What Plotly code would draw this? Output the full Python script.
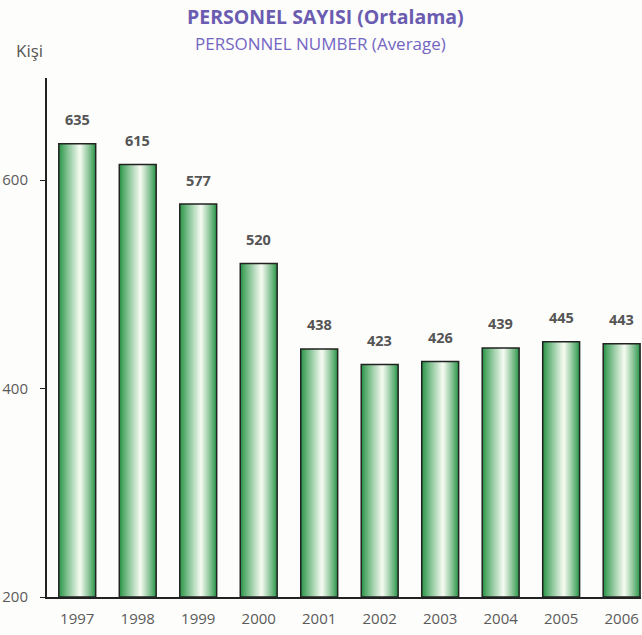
import plotly.graph_objects as go

years = ["1997", "1998", "1999", "2000", "2001", "2002", "2003", "2004", "2005", "2006"]
staff = [635, 615, 577, 520, 438, 423, 426, 439, 445, 443]
y_ticks = [200, 400, 600]

BAR_W = 0.61
FONT = "Open Sans"
fig = go.Figure()

# gradient layers (edge green -> light center, highlight slightly right of centre)
edge = (44, 150, 74)
center = (242, 249, 238)
n = 16
for i in range(n):
    t = i / (n - 1)
    tt = t ** 0.9
    c = tuple(int(edge[k] + (center[k] - edge[k]) * tt) for k in range(3))
    w = BAR_W * (1 - 0.94 * t)
    fig.add_trace(go.Bar(
        x=years, y=[v - 200 for v in staff], base=200, width=w,
        offset=-w / 2 + 0.07 * BAR_W * t,
        marker=dict(color="rgb(%d,%d,%d)" % c, line=dict(width=0)),
        hoverinfo="skip", showlegend=False))

# outline
fig.add_trace(go.Bar(
    x=years, y=[v - 200 for v in staff], base=200, width=BAR_W, offset=-BAR_W / 2,
    marker=dict(color="rgba(0,0,0,0)", line=dict(color="#222222", width=1.5)),
    hoverinfo="skip", showlegend=False))

for i, v in enumerate(staff):
    fig.add_annotation(x=i, y=v, text="<b>%d</b>" % v, showarrow=False,
                       yanchor="middle", yshift=24,
                       font=dict(family=FONT, size=14.5, color="#555555"))

fig.add_annotation(xref="paper", yref="paper", x=0, y=1, xshift=278, yshift=62,
                   xanchor="center", yanchor="middle",
                   text="<b>PERSONEL SAYISI (Ortalama)</b>", showarrow=False,
                   font=dict(family=FONT, size=19.5, color="#6a5cb0"))
fig.add_annotation(xref="paper", yref="paper", x=0, y=1, xshift=273, yshift=35,
                   xanchor="center", yanchor="middle",
                   text="PERSONNEL NUMBER (Average)", showarrow=False,
                   font=dict(family=FONT, size=17, color="#7466c4"))
fig.add_annotation(xref="paper", yref="paper", x=0, y=1, xshift=-33, yshift=28,
                   xanchor="left", yanchor="middle", text="Kişi", showarrow=False,
                   font=dict(family=FONT, size=17, color="#555555"))

fig.update_layout(
    width=642, height=635,
    margin=dict(l=47, r=1, t=78, b=38),
    barmode="overlay",
    paper_bgcolor="#fdfdfb", plot_bgcolor="rgba(0,0,0,0)",
    hovermode=False,
    xaxis=dict(type="category", range=[-0.5, 9.32], showgrid=False,
               showline=True, linecolor="#222222", linewidth=2,
               ticks="", ticklabelstandoff=7,
               tickfont=dict(family=FONT, size=15, color="#5a5a5a")),
    yaxis=dict(range=[200, 698], tickvals=y_ticks, showgrid=False, zeroline=False,
               showline=True, linecolor="#222222", linewidth=2,
               ticks="outside", ticklen=5, tickcolor="#222222", ticklabelstandoff=9,
               tickfont=dict(family=FONT, size=15, color="#5a5a5a")),
)

fig.write_html("out.html", config={"displayModeBar": False, "staticPlot": True},
               post_script="document.body.style.margin='0';document.body.style.overflow='hidden';")
